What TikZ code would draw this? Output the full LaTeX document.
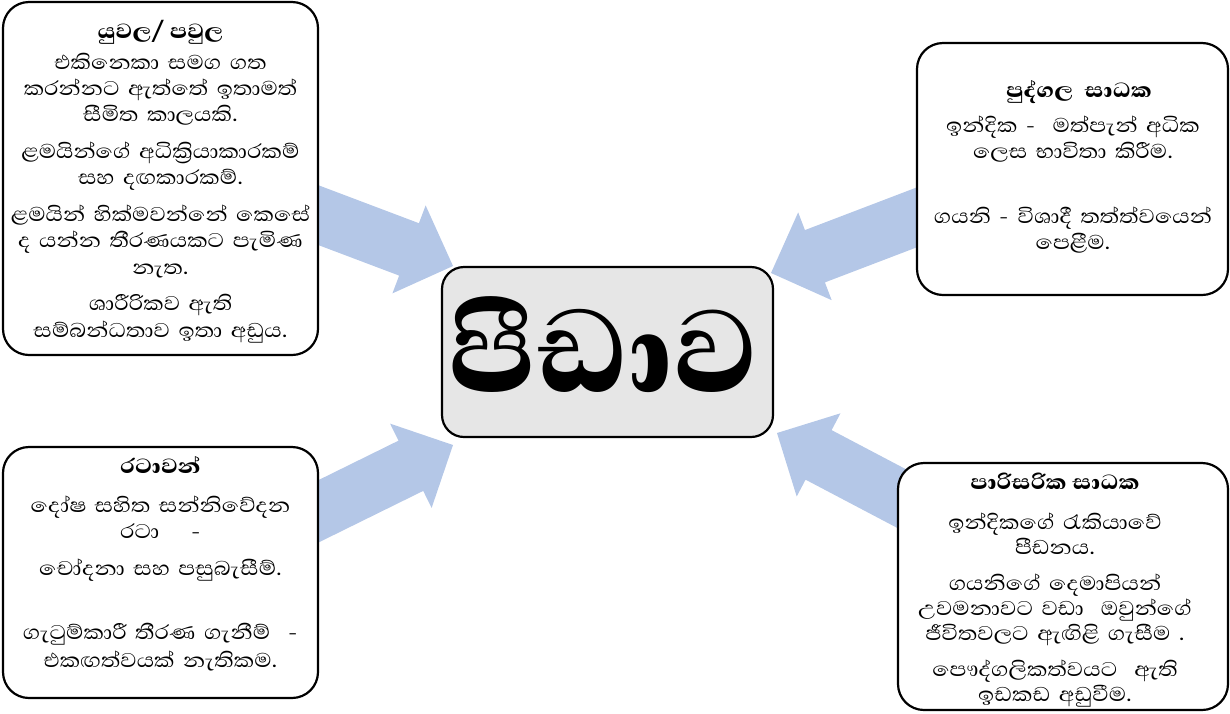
\documentclass[tikz,border=0pt]{standalone}
\usepackage{fontspec}
\newfontfamily\sinhalafont[Script=Sinhala, FakeStretch=1.13, BoldFont={Abhaya Libre ExtraBold}]{Abhaya Libre}
\newfontfamily\hubfont[Script=Sinhala, BoldFont={Abhaya Libre ExtraBold}]{Abhaya Libre}
\usetikzlibrary{calc,backgrounds}

\definecolor{arrowblue}{RGB}{180,199,231}
\definecolor{hubgray}{RGB}{230,230,230}

\newcommand\pgap{10.5pt}

\tikzset{
  panel/.style={draw=black, line width=2.2pt, rounded corners=26pt, fill=white, inner sep=0pt},
  hub/.style={draw=black, line width=2.2pt, rounded corners=22pt, fill=hubgray, inner sep=0pt},
  headtext/.style={font=\sinhalafont\bfseries\fontsize{26.3}{26}\selectfont, inner sep=0pt, anchor=base},
  bodytext/.style={font=\sinhalafont\fontsize{25.5}{26.3}\selectfont, align=center, text width=320pt, inner sep=0pt, anchor=base},
  tightbody/.style={bodytext, font=\sinhalafont\fontsize{25.5}{25.3}\selectfont},
  hubtext/.style={font=\hubfont\bfseries\fontsize{150}{150}\selectfont, inner sep=0pt, anchor=base},
}

% block arrow: #1 start coordinate, #2 tip coordinate
\newcommand\flowarrow[2]{%
  \coordinate (#1-base) at ($(#2)!47pt!(#1)$);
  \fill[arrowblue]
    ($(#1)!28pt!90:(#2)$) -- ($(#1-base)!28pt!90:(#2)$) --
    ($(#1-base)!47pt!90:(#2)$) -- (#2) --
    ($(#1-base)!47pt!-90:(#2)$) -- ($(#1-base)!28pt!-90:(#2)$) --
    ($(#1)!28pt!-90:(#2)$) -- cycle;
}

\begin{document}
\begin{tikzpicture}[x=1pt,y=-1pt]
\useasboundingbox (0,0) rectangle (1230,713);

% central box
\node[hub, minimum width=331pt, minimum height=170pt] (hub) at (607.5,352) {};
\node[hubtext] (hubT) at (604,392) {පීඩාව};

% top left: couple / family
\node[panel, minimum width=315pt, minimum height=353pt] (couple) at (160.5,178.5) {};
\node[headtext] (coupleT) at (160.5,38) {යුවල/ පවුල};
\node[bodytext] (coupleB) at (160.5,69) {එකිනෙකා සමග ගත\\
කරන්නට ඇත්තේ ඉතාමත්\\
සීමිත කාලයකි.\\[\pgap]
ළමයින්ගේ අධික්^^^^200dරියාකාරකම්\\
සහ දඟකාරකම්.\\[\pgap]
ළමයින් හික්මවන්නේ කෙසේ\\
ද යන්න තීරණයකට පැමිණ\\
නැත.\\[\pgap]
ශාරීරිකව ඇති\\
සම්බන්ධතාව ඉතා අඩුය.};

% bottom left: patterns
\node[panel, minimum width=315pt, minimum height=251pt] (patterns) at (160.5,572.5) {};
\node[headtext] (patternsT) at (160.5,473) {රටාවන්};
\node[bodytext] (patternsB) at (160.5,512) {දෝෂ සහිත සන්නිවේදන\\
රටා\hspace{32pt}-\\[\pgap]
චෝදනා සහ පසුබැසීම්.\\[38pt]
ගැටුම්කාරී තීරණ ගැනීම්\hspace{18pt}-\\[1.5pt]
එකඟත්වයක් නැතිකම.};

% top right: personal factors
\node[panel, minimum width=311pt, minimum height=252pt] (personal) at (1072.5,169) {};
\node[headtext] (personalT) at (1079,97) {පුද්ගල~ සාධක};
\node[bodytext] (personalB) at (1073,132) {ඉන්දික -~ මත්පැන් අධික\\
ලෙස භාවිතා කිරීම.\\[38.5pt]
ගයනි - විශාදී තත්ත්වයෙන්\\
පෙළීම.};

% bottom right: environmental factors
\node[panel, minimum width=330pt, minimum height=247pt] (environ) at (1063,586.5) {};
\node[headtext] (environT) at (1055,489) {පාරිසරික සාධක};
\node[tightbody] (environB) at (1055,529) {ඉන්දිකගේ රැකියාවේ\\
පීඩනය.\\[\pgap]
ගයනිගේ දෙමාපියන්\\
උවමනාවට වඩා~ ඔවුන්ගේ\\
ජීවිතවලට ඇඟිළි ගැසීම .\\[\pgap]
පෞද්ගලිකත්වයට~ ඇති\\
ඉඩකඩ අඩුවීම.};

% arrow end points
\coordinate (a1s) at (300,208.2);
\coordinate (a1t) at (453,266);
\coordinate (a2s) at (300,520.4);
\coordinate (a2t) at (453,445);
\coordinate (a3s) at (935,210.4);
\coordinate (a3t) at (771,273);
\coordinate (a4s) at (918,507.2);
\coordinate (a4t) at (777,433);

\begin{pgfonlayer}{background}
  \flowarrow{a1s}{a1t}
  \flowarrow{a2s}{a2t}
  \flowarrow{a3s}{a3t}
  \flowarrow{a4s}{a4t}
\end{pgfonlayer}
\end{tikzpicture}
\end{document}
